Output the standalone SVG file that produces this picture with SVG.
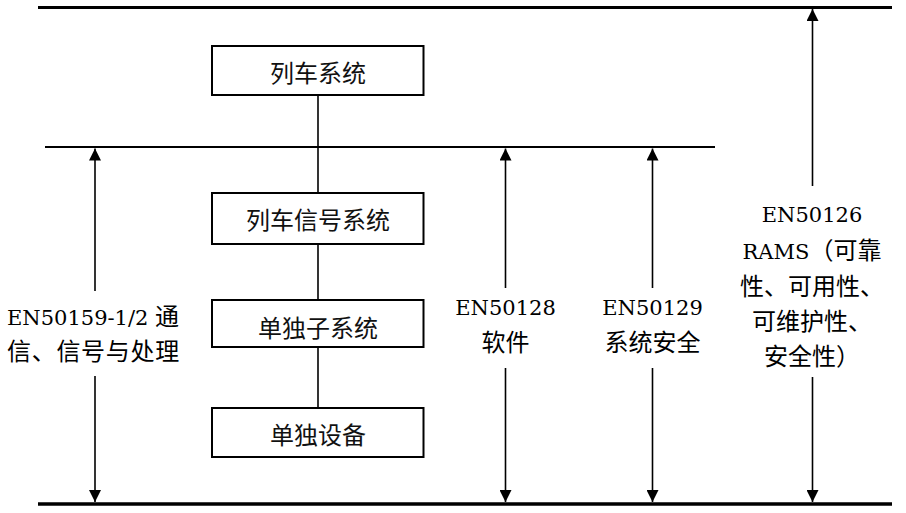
<svg xmlns="http://www.w3.org/2000/svg" width="906" height="513" viewBox="0 0 906 513">
<style>
.box{fill:#fff;stroke:#000;stroke-width:2}
.bt{font-family:"Noto Sans CJK SC",sans-serif;font-size:24px;fill:#111;text-anchor:middle}
.lat{font-family:"DejaVu Serif","Liberation Serif",serif;font-size:21px;fill:#000}
.cjk{font-family:"Noto Sans CJK SC",sans-serif;font-size:24px;fill:#000}
.mid{text-anchor:middle}
.bg{fill:#fff}
.conn{stroke:#000;stroke-width:1.6;fill:none}
.arr{stroke:#000;stroke-width:1.6;fill:none;marker-start:url(#ah);marker-end:url(#ah)}
</style>
<defs>
<marker id="ah" viewBox="0 0 12 12" refX="12" refY="6" markerWidth="12" markerHeight="12" markerUnits="userSpaceOnUse" orient="auto-start-reverse">
<path d="M0,0 L12,6 L0,12 Z" fill="#000"/>
</marker>
</defs>
<g id="levels">
<line x1="38" y1="7.5" x2="892" y2="7.5" stroke="#000" stroke-width="3"/>
<line x1="45" y1="147" x2="715" y2="147" stroke="#000" stroke-width="2"/>
<line x1="38" y1="504" x2="892" y2="504" stroke="#000" stroke-width="3.5"/>
</g>
<g id="connectors">
<line class="conn" x1="318" y1="95" x2="318" y2="193"/>
<line class="conn" x1="318" y1="244" x2="318" y2="300"/>
<line class="conn" x1="318" y1="347" x2="318" y2="408"/>
<line class="arr" x1="95" y1="148.5" x2="95" y2="502"/>
<line class="arr" x1="505.5" y1="148.5" x2="505.5" y2="502"/>
<line class="arr" x1="652.5" y1="148.5" x2="652.5" y2="502"/>
<line class="arr" x1="812.5" y1="9" x2="812.5" y2="502"/>
</g>
<g id="n1">
<rect class="box" x="212" y="46" width="211.5" height="49"/>
<text class="bt" x="318" y="81.5">列车系统</text>
</g>
<g id="n2">
<rect class="box" x="212" y="193" width="211.5" height="51"/>
<text class="bt" x="318" y="229">列车信号系统</text>
</g>
<g id="n3">
<rect class="box" x="212" y="300" width="211.5" height="47"/>
<text class="bt" x="318" y="336.5">单独子系统</text>
</g>
<g id="n4">
<rect class="box" x="212" y="408" width="211.5" height="49"/>
<text class="bt" x="318" y="443.5">单独设备</text>
</g>
<g id="l1">
<rect class="bg" x="3" y="291" width="183" height="85"/>
<text x="7" y="325"><tspan class="lat">EN50159-1/2 </tspan><tspan class="cjk">通</tspan></text>
<text class="cjk" x="7" y="360" letter-spacing="0.7">信、信号与处理</text>
</g>
<g id="l2">
<rect class="bg" x="452" y="288" width="107" height="80"/>
<text class="lat mid" x="505.5" y="315">EN50128</text>
<text class="cjk mid" x="505.5" y="351">软件</text>
</g>
<g id="l3">
<rect class="bg" x="599" y="288" width="107" height="80"/>
<text class="lat mid" x="652.5" y="315">EN50129</text>
<text class="cjk mid" x="652.5" y="351">系统安全</text>
</g>
<g id="l4">
<rect class="bg" x="745" y="186" width="134" height="191"/>
<text class="lat mid" x="812" y="222">EN50126</text>
<text class="mid" x="812" y="259"><tspan class="lat">RAMS</tspan><tspan class="cjk">（可靠</tspan></text>
<text class="cjk mid" x="812" y="295">性、可用性、</text>
<text class="cjk mid" x="812" y="330">可维护性、</text>
<text class="cjk mid" x="812" y="365">安全性）</text>
</g>
</svg>
